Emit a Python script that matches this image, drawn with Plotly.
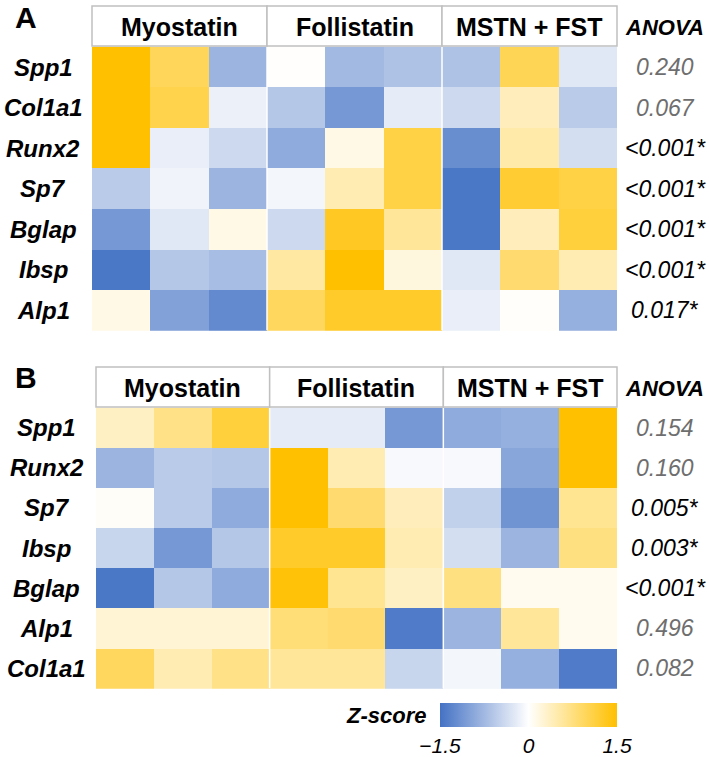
import plotly.graph_objects as go

W, H = 709, 757

groups = ["Myostatin", "Follistatin", "MSTN + FST"]
cols = ["M1", "M2", "M3", "F1", "F2", "F3", "MF1", "MF2", "MF3"]

genes_a = ["Spp1", "Col1a1", "Runx2", "Sp7", "Bglap", "Ibsp", "Alp1"]
z_a = [
    [1.5, 0.97, -0.8, 0.02, -0.75, -0.65, -0.65, 1.0, -0.25],
    [1.5, 1.05, -0.15, -0.6, -1.1, -0.2, -0.4, 0.4, -0.55],
    [1.5, -0.18, -0.4, -0.9, 0.15, 1.1, -1.2, 0.5, -0.35],
    [-0.55, -0.12, -0.8, -0.1, 0.45, 1.1, -1.45, 1.2, 1.1],
    [-1.1, -0.25, 0.15, -0.4, 1.3, 0.6, -1.45, 0.4, 1.15],
    [-1.45, -0.6, -0.7, 0.55, 1.5, 0.2, -0.25, 0.85, 0.45],
    [0.15, -1.0, -1.25, 0.95, 1.25, 1.25, -0.18, 0.03, -0.85],
]
p_a = ["0.240", "0.067", "<0.001*", "<0.001*", "<0.001*", "<0.001*", "0.017*"]
sig_a = [False, False, True, True, True, True, True]

genes_b = ["Spp1", "Runx2", "Sp7", "Ibsp", "Bglap", "Alp1", "Col1a1"]
z_b = [
    [0.35, 0.7, 1.15, -0.2, -0.2, -1.1, -0.9, -0.85, 1.5],
    [-0.8, -0.55, -0.6, 1.5, 0.45, -0.06, -0.06, -0.95, 1.5],
    [0.05, -0.55, -0.9, 1.5, 0.85, 0.4, -0.5, -1.15, 0.65],
    [-0.45, -1.1, -0.6, 1.25, 1.25, 0.45, -0.35, -0.8, 0.75],
    [-1.45, -0.6, -0.9, 1.45, 0.65, 0.35, 0.75, 0.1, 0.1],
    [0.25, 0.25, 0.25, 0.8, 0.85, -1.4, -0.8, 0.6, 0.1],
    [0.95, 0.45, 0.7, 0.6, 0.6, -0.45, -0.1, -0.85, -1.4],
]
p_b = ["0.154", "0.160", "0.005*", "0.003*", "<0.001*", "0.496", "0.082"]
sig_b = [False, False, True, True, True, False, False]

cbar_ticks = [-1.5, 0, 1.5]
cbar_ticktext = ["\u22121.5", "0", "1.5"]

FONT = "Liberation Sans, Arial, sans-serif"


def px_x(x):
    return x / W


def px_y(y):
    return 1 - y / H


panels = [
    dict(genes=genes_a, z=z_a, p=p_a, sig=sig_a, left=92, right=617, htop=6, gtop=46, gbot=331,
         letter="A", lx=26, ly=18, labx=43, xa="x", ya="y"),
    dict(genes=genes_b, z=z_b, p=p_b, sig=sig_b, left=96, right=617, htop=367, gtop=407, gbot=689,
         letter="B", lx=26, ly=377, labx=47, xa="x2", ya="y2"),
]

fig = go.Figure()
shapes = []
annotations = []

for i, P in enumerate(panels):
    fig.add_trace(go.Heatmap(
        z=P["z"], x=cols, y=P["genes"], coloraxis="coloraxis",
        xgap=0, ygap=0, xaxis=P["xa"], yaxis=P["ya"], hoverinfo="skip",
    ))
    sfx = "" if i == 0 else "2"
    fig.update_layout(**{
        "xaxis" + sfx: dict(domain=[px_x(P["left"]), px_x(P["right"])], showticklabels=False,
                           showgrid=False, zeroline=False, ticks="", anchor="y" + sfx),
        "yaxis" + sfx: dict(domain=[px_y(P["gbot"]), px_y(P["gtop"])], showticklabels=False,
                           showgrid=False, zeroline=False, ticks="", autorange="reversed",
                           anchor="x" + sfx),
    })
    for xb in [2.5, 5.5]:
        shapes.append(dict(type="line", xref=P["xa"], yref=P["ya"], x0=xb, x1=xb,
                           y0=-0.5, y1=len(P["genes"]) - 0.5,
                           line=dict(color="white", width=1.5)))
    gw = (P["right"] - P["left"]) / 3
    for g, name in enumerate(groups):
        x0 = P["left"] + g * gw
        x1 = x0 + gw
        shapes.append(dict(type="rect", xref="paper", yref="paper",
                           x0=px_x(x0), x1=px_x(x1), y0=px_y(P["gtop"]), y1=px_y(P["htop"]),
                           line=dict(color="#C0C0C0", width=1.5), fillcolor="white"))
        annotations.append(dict(text=name, xref="paper", yref="paper",
                                x=px_x((x0 + x1) / 2), y=px_y((P["htop"] + P["gtop"]) / 2 + 1),
                                showarrow=False, xanchor="center", yanchor="middle",
                                font=dict(family=FONT, size=25, color="black", weight="bold")))
    annotations.append(dict(text="ANOVA", xref="paper", yref="paper",
                            x=px_x(664), y=px_y((P["htop"] + P["gtop"]) / 2 + 1),
                            showarrow=False, xanchor="center", yanchor="middle",
                            font=dict(family=FONT, size=22, color="black", weight="bold", style="italic")))
    annotations.append(dict(text=P["letter"], xref="paper", yref="paper",
                            x=px_x(P["lx"]), y=px_y(P["ly"]),
                            showarrow=False, xanchor="center", yanchor="middle",
                            font=dict(family=FONT, size=30, color="black", weight="bold")))
    for r, gname in enumerate(P["genes"]):
        annotations.append(dict(text=gname, xref="paper", yref=P["ya"],
                                x=px_x(P["labx"]), y=gname,
                                showarrow=False, xanchor="center", yanchor="middle",
                                font=dict(family=FONT, size=24, color="black", weight="bold", style="italic")))
        annotations.append(dict(text=P["p"][r], xref="paper", yref=P["ya"],
                                x=px_x(665), y=gname,
                                showarrow=False, xanchor="center", yanchor="middle",
                                font=dict(family=FONT, size=23,
                                          color="black" if P["sig"][r] else "#6E6E6E",
                                          style="italic")))

annotations.append(dict(text="Z-score", xref="paper", yref="paper",
                        x=px_x(428), y=px_y(715), showarrow=False,
                        xanchor="right", yanchor="middle",
                        font=dict(family=FONT, size=22, color="black", weight="bold", style="italic")))

fig.update_layout(
    width=W, height=H,
    margin=dict(l=0, r=0, t=0, b=0),
    paper_bgcolor="white", plot_bgcolor="white",
    shapes=shapes, annotations=annotations,
    coloraxis=dict(
        cmin=-1.5, cmax=1.5,
        colorscale=[[0, "#4472C4"], [0.5, "#FFFFFF"], [1, "#FFC000"]],
        colorbar=dict(
            orientation="h", x=px_x(440), xanchor="left", y=px_y(703), yanchor="top",
            len=177, lenmode="pixels", thickness=24, thicknessmode="pixels",
            xpad=0, ypad=0, outlinewidth=0,
            tickvals=cbar_ticks, ticktext=cbar_ticktext, ticks="",
            tickfont=dict(family=FONT, size=21, color="black", style="italic"),
        ),
    ),
)

fig.write_html(
    "out.html",
    config={"displayModeBar": False},
    post_script="document.body.style.margin='0';document.body.style.overflow='hidden';",
)
